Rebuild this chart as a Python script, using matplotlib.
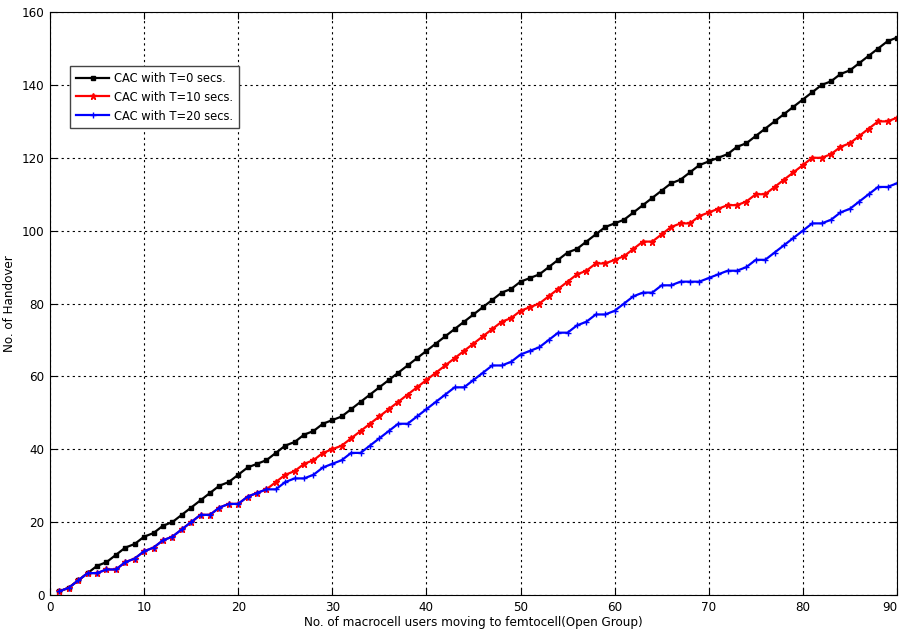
import numpy as np
import matplotlib
matplotlib.use("Agg")
import matplotlib.pyplot as plt

# data (users 1..90)
users = np.arange(1, 91)

ho_t0 = [1, 2, 4, 6, 8, 9, 11, 13, 14, 16,
         17, 19, 20, 22, 24, 26, 28, 30, 31, 33,
         35, 36, 37, 39, 41, 42, 44, 45, 47, 48,
         49, 51, 53, 55, 57, 59, 61, 63, 65, 67,
         69, 71, 73, 75, 77, 79, 81, 83, 84, 86,
         87, 88, 90, 92, 94, 95, 97, 99, 101, 102,
         103, 105, 107, 109, 111, 113, 114, 116, 118, 119,
         120, 121, 123, 124, 126, 128, 130, 132, 134, 136,
         138, 140, 141, 143, 144, 146, 148, 150, 152, 153]

ho_t10 = [1, 2, 4, 6, 6, 7, 7, 9, 10, 12,
          13, 15, 16, 18, 20, 22, 22, 24, 25, 25,
          27, 28, 29, 31, 33, 34, 36, 37, 39, 40,
          41, 43, 45, 47, 49, 51, 53, 55, 57, 59,
          61, 63, 65, 67, 69, 71, 73, 75, 76, 78,
          79, 80, 82, 84, 86, 88, 89, 91, 91, 92,
          93, 95, 97, 97, 99, 101, 102, 102, 104, 105,
          106, 107, 107, 108, 110, 110, 112, 114, 116, 118,
          120, 120, 121, 123, 124, 126, 128, 130, 130, 131]

ho_t20 = [1, 2, 4, 6, 6, 7, 7, 9, 10, 12,
          13, 15, 16, 18, 20, 22, 22, 24, 25, 25,
          27, 28, 29, 29, 31, 32, 32, 33, 35, 36,
          37, 39, 39, 41, 43, 45, 47, 47, 49, 51,
          53, 55, 57, 57, 59, 61, 63, 63, 64, 66,
          67, 68, 70, 72, 72, 74, 75, 77, 77, 78,
          80, 82, 83, 83, 85, 85, 86, 86, 86, 87,
          88, 89, 89, 90, 92, 92, 94, 96, 98, 100,
          102, 102, 103, 105, 106, 108, 110, 112, 112, 113]

labels = ['CAC with T=0 secs.', 'CAC with T=10 secs.', 'CAC with T=20 secs.']

plt.rcParams['font.family'] = ['DejaVu Sans']
plt.rcParams['font.stretch'] = 'condensed'

fig = plt.figure(figsize=(9.01, 6.36), dpi=100)
ax = fig.add_axes([0.0555, 0.0645, 0.940, 0.9165])

ax.plot(users, ho_t0, color='black', marker='s', markersize=3.5, linewidth=1.6, label=labels[0])
ax.plot(users, ho_t10, color='red', marker='*', markersize=5, linewidth=1.6, label=labels[1])
ax.plot(users, ho_t20, color='blue', marker='+', markersize=5, linewidth=1.6, label=labels[2])

ax.set_xlim(0, 90)
ax.set_ylim(0, 160)
ax.set_xticks(np.arange(0, 91, 10))
ax.set_yticks(np.arange(0, 161, 20))
ax.grid(True, color='black', linestyle=(0, (2, 3)), linewidth=0.8)
ax.tick_params(direction='in', labelsize=9.5, length=5, top=True, right=True, pad=4)
# keep the last x label inside the figure
ax.get_xticklabels()[-1].set_horizontalalignment('right')

ax.set_xlabel('No. of macrocell users moving to femtocell(Open Group)', fontsize=9.5, labelpad=2)
ax.set_ylabel('No. of Handover', fontsize=9.5, labelpad=4)

leg = ax.legend(loc='upper left', bbox_to_anchor=(0.024, 0.907), fontsize=9.2,
                fancybox=False, framealpha=1, edgecolor='#444444',
                handlelength=2.6, handletextpad=0.4, borderpad=0.45,
                labelspacing=0.45, borderaxespad=0)
leg.get_frame().set_linewidth(1.0)

fig.savefig('out.png', dpi=100)
